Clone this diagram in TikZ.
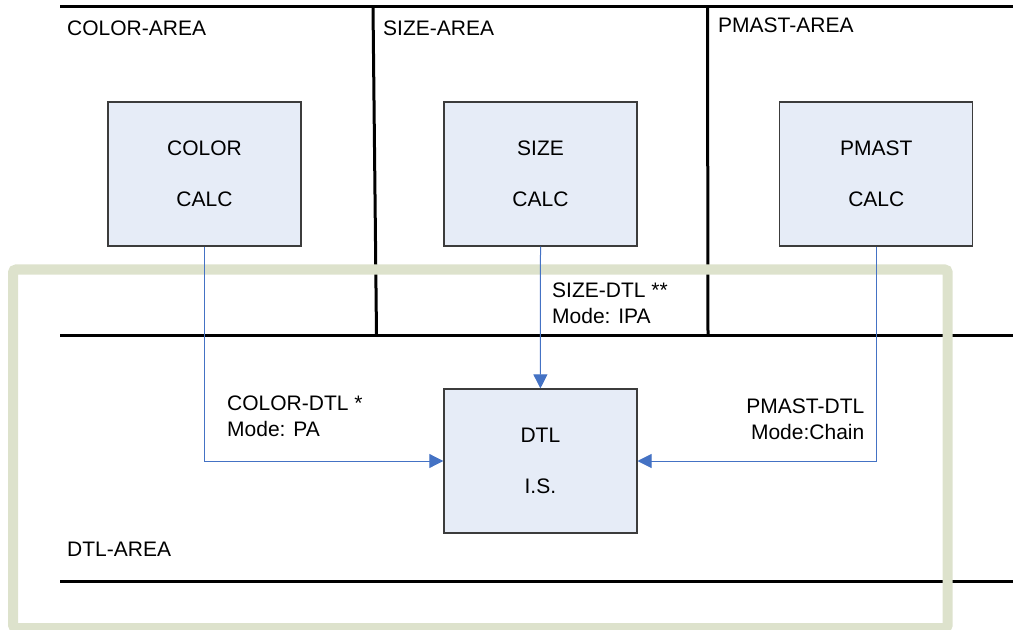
\documentclass[tikz,border=0pt]{standalone}
\usepackage{fontspec}
\setmainfont{Liberation Sans}
\usetikzlibrary{arrows.meta}
\definecolor{boxfill}{RGB}{230,236,247}
\definecolor{boxedge}{RGB}{60,60,60}
\definecolor{connblue}{RGB}{68,114,196}
\definecolor{framegreen}{RGB}{221,226,204}
\tikzset{
  lane/.style={line width=3bp, black},
  frame/.style={line width=10bp, framegreen, rounded corners=3bp},
  calcbox/.style={draw=boxedge, line width=1.2bp, fill=boxfill, minimum width=193bp, minimum height=144bp, inner sep=0pt, align=center, font=\fontsize{21bp}{51bp}\selectfont},
  conn/.style={draw=connblue, line width=1bp, -{Triangle[length=14bp,width=14bp]}},
  lbl/.style={inner sep=0pt, font=\fontsize{21bp}{26bp}\selectfont}
}
\begin{document}
\begin{tikzpicture}[x=1bp,y=-1bp]
\useasboundingbox (0,0) rectangle (1013,630);
% lane lines
\draw[lane] (60,7) -- (1013,7);
\draw[lane] (373,7) -- (376.5,335.5);
\draw[lane] (707.5,7) -- (708,335.5);
\draw[lane] (60,335.5) -- (1013,335.5);
\draw[lane] (60,581) -- (1013,581);
% green frame
\draw[frame] (13,269.5) rectangle (947.7,628);
% boxes
\node[calcbox] (color) at (204.5,174) {COLOR\\CALC};
\node[calcbox] (size) at (540.5,174) {SIZE\\CALC};
\node[calcbox] (pmast) at (876.3,174) {PMAST\\CALC};
\node[calcbox] (dtl) at (540.4,461) {DTL\\I.S.};
% area labels
\node[lbl, anchor=base west] (lcolorarea) at (67,36) {COLOR-AREA};
\node[lbl, anchor=base west] (lsizearea) at (383,36) {SIZE-AREA};
\node[lbl, anchor=base west] (lpmastarea) at (718,32.5) {PMAST-AREA};
\node[lbl, anchor=base west] (ldtlarea) at (67,556) {DTL-AREA};
% connector labels
\node[lbl, anchor=base west] (lsizedtl) at (552,297.5) {SIZE-DTL **};
\node[lbl, anchor=base west] (lsizemode) at (552,323.5) {Mode: IPA};
\node[lbl, anchor=base west] (lcolordtl) at (227,410.7) {COLOR-DTL *};
\node[lbl, anchor=base west] (lcolormode) at (227,436.7) {Mode: PA};
\node[lbl, anchor=base east] (lpmastdtl) at (864.5,413.3) {PMAST-DTL};
\node[lbl, anchor=base east] (lpmastmode) at (864.5,439.3) {Mode:Chain};
% connectors
\draw[conn] (color.south) |- (dtl.west);
\draw[conn] (size.south) -- (dtl.north);
\draw[conn] (pmast.south) |- (dtl.east);
\end{tikzpicture}
\end{document}
